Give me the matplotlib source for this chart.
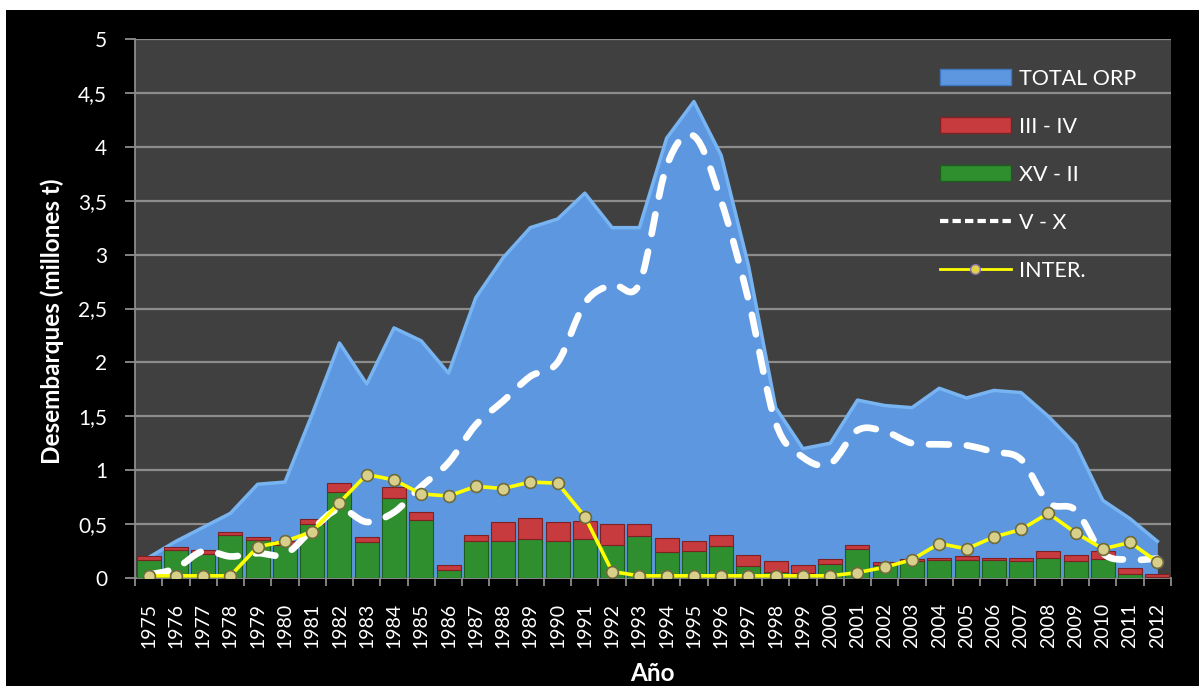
import numpy as np
import matplotlib
matplotlib.use("Agg")
import matplotlib.pyplot as plt
from matplotlib.patches import Patch, PathPatch, Rectangle
from matplotlib.lines import Line2D
from matplotlib.path import Path

plt.rcParams["font.family"] = ["Lato", "DejaVu Sans"]

years = list(range(1975, 2013))

total_orp = [0.19, 0.34, 0.47, 0.60, 0.87, 0.89, 1.52, 2.18, 1.80, 2.32,
             2.20, 1.90, 2.60, 2.97, 3.25, 3.33, 3.57, 3.25, 3.25, 4.08,
             4.42, 3.92, 2.90, 1.58, 1.20, 1.25, 1.65, 1.60, 1.58, 1.76,
             1.67, 1.74, 1.72, 1.50, 1.24, 0.72, 0.55, 0.34]

xv_ii = [0.17, 0.26, 0.22, 0.40, 0.35, 0.31, 0.50, 0.80, 0.33, 0.74,
         0.54, 0.07, 0.34, 0.34, 0.36, 0.34, 0.36, 0.31, 0.39, 0.24,
         0.25, 0.30, 0.11, 0.06, 0.05, 0.13, 0.27, 0.12, 0.16, 0.17,
         0.17, 0.17, 0.16, 0.19, 0.16, 0.18, 0.04, 0.01]

iii_iv = [0.03, 0.03, 0.04, 0.03, 0.03, 0.03, 0.05, 0.08, 0.05, 0.10,
          0.07, 0.05, 0.06, 0.18, 0.20, 0.18, 0.17, 0.19, 0.11, 0.13,
          0.09, 0.10, 0.10, 0.10, 0.07, 0.05, 0.04, 0.03, 0.02, 0.02,
          0.03, 0.02, 0.03, 0.06, 0.05, 0.07, 0.05, 0.03]

v_x = [0.03, 0.09, 0.25, 0.20, 0.23, 0.22, 0.45, 0.64, 0.52, 0.61,
       0.85, 1.07, 1.42, 1.64, 1.87, 2.00, 2.55, 2.72, 2.73, 3.82,
       4.10, 3.50, 2.58, 1.44, 1.12, 1.06, 1.37, 1.36, 1.25, 1.24,
       1.23, 1.17, 1.10, 0.70, 0.63, 0.23, 0.17, 0.18]

inter = [0.02, 0.02, 0.02, 0.02, 0.29, 0.34, 0.43, 0.70, 0.96, 0.91,
         0.78, 0.76, 0.85, 0.83, 0.89, 0.88, 0.57, 0.06, 0.02, 0.02,
         0.02, 0.02, 0.02, 0.02, 0.02, 0.02, 0.05, 0.10, 0.17, 0.32,
         0.27, 0.38, 0.45, 0.60, 0.42, 0.27, 0.33, 0.15]

yticks = [0, 0.5, 1, 1.5, 2, 2.5, 3, 3.5, 4, 4.5, 5]
ytick_labels = ["0", "0,5", "1", "1,5", "2", "2,5", "3", "3,5", "4", "4,5", "5"]


def smooth_path(xs, ys):
    # Excel-style smoothed line as cubic bezier segments through the points
    pts = np.column_stack([xs, ys]).astype(float)
    n = len(pts)
    verts = [pts[0]]
    codes = [Path.MOVETO]
    for i in range(n - 1):
        p0 = pts[max(i - 1, 0)]
        p1 = pts[i]
        p2 = pts[i + 1]
        p3 = pts[min(i + 2, n - 1)]
        c1 = p1 + (p2 - p0) / 6.0
        c2 = p2 - (p3 - p1) / 6.0
        verts += [c1, c2, p2]
        codes += [Path.CURVE4] * 3
    return Path(verts, codes)


fig = plt.figure(figsize=(11.99, 6.86), dpi=100, facecolor="white")
fig.patches.append(Rectangle((6 / 1199, 0), 1 - 6 / 1199, 1 - 10 / 686,
                             transform=fig.transFigure, facecolor="black",
                             edgecolor="none", zorder=-10))

ax = fig.add_axes([135 / 1199, 108 / 686, 1036 / 1199, 539 / 686])
ax.set_facecolor("#404040")

x = np.arange(len(years))

ax.fill_between(x, total_orp, 0, color="#5c97df", zorder=2, linewidth=0)
ax.plot(x, total_orp, color="#78b4f2", linewidth=2.5, zorder=2.1,
        solid_joinstyle="round")

ax.bar(x, xv_ii, width=0.88, color="#2f8f2f", edgecolor="#1d5c1d",
       linewidth=0.8, zorder=3)
ax.bar(x, iii_iv, width=0.88, bottom=xv_ii, color="#c73a3d",
       edgecolor="#7d2224", linewidth=0.8, zorder=3)

dash = PathPatch(smooth_path(x, v_x), fill=False, edgecolor="white",
                 linewidth=4.8, linestyle=(0, (3.0, 2.7)), capstyle="round",
                 zorder=4)
ax.add_patch(dash)

ax.plot(x, inter, color="#ffff00", linewidth=2.6, zorder=5,
        marker="o", markersize=8.5, markerfacecolor="#d8d08a",
        markeredgecolor="#6e6a3a", markeredgewidth=1.2)

ax.set_xlim(-0.5, len(years) - 0.5)
ax.set_ylim(0, 5)

ax.set_yticks(yticks)
ax.set_yticklabels(ytick_labels)
ax.yaxis.grid(True, color="#8c8c8c", linewidth=1.6, zorder=0)
ax.set_axisbelow(True)

ax.set_xticks(x)
ax.set_xticklabels([str(y) for y in years], rotation=90)
ax.set_xticks(np.arange(len(years) + 1) - 0.5, minor=True)
ax.tick_params(axis="x", which="major", length=0, pad=18, colors="white",
               labelsize=14)
ax.tick_params(axis="x", which="minor", length=6, width=1.3, color="#8c8c8c")
ax.tick_params(axis="y", length=7, width=1.3, color="#8c8c8c", pad=13,
               labelcolor="white", labelsize=15)

for s in ["top", "right"]:
    ax.spines[s].set_visible(False)
for s in ["left", "bottom"]:
    ax.spines[s].set_color("#8c8c8c")
    ax.spines[s].set_linewidth(1.3)

fig.text(52 / 1199, 1 - 321 / 686, "Desembarques (millones t)", rotation=90,
         ha="center", va="center", color="white", fontsize=17.5,
         fontweight="bold")
fig.text(652 / 1199, 1 / 686, "Año", ha="center", va="bottom", color="white",
         fontsize=17.5, fontweight="bold")

handles = [
    Patch(facecolor="#5c97df", edgecolor="#3f78c0"),
    Patch(facecolor="#c73a3d", edgecolor="#7d2224"),
    Patch(facecolor="#2f8f2f", edgecolor="#1d5c1d"),
    Line2D([], [], color="white", linewidth=3, linestyle=(0, (2, 1))),
    Line2D([], [], color="#ffff00", linewidth=2, marker="o", markersize=7,
           markerfacecolor="#e0d24a", markeredgecolor="#8a6fb0"),
]
labels = ["TOTAL ORP", "III - IV", "XV - II", "V - X", "INTER."]
leg = ax.legend(handles, labels, loc="upper left",
                bbox_to_anchor=(0.777, 0.945), frameon=False, fontsize=15.5,
                handlelength=3.3, handleheight=0.75, labelspacing=1.3,
                handletextpad=0.35, borderpad=0, borderaxespad=0)
for t in leg.get_texts():
    t.set_color("white")

fig.savefig("out.png", dpi=100, facecolor=fig.get_facecolor())
